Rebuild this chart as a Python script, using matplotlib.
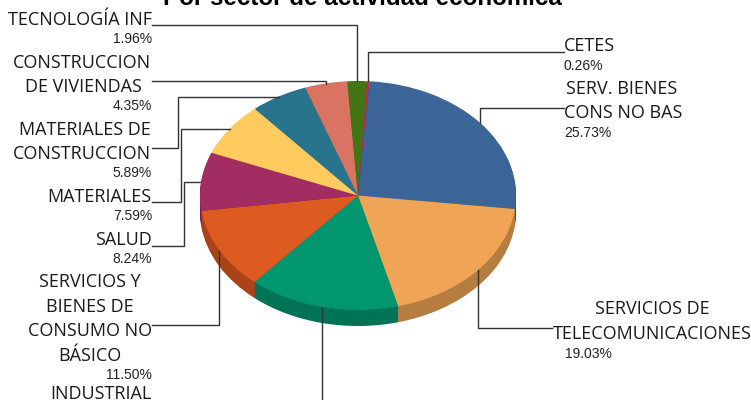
import matplotlib
matplotlib.use('Agg')
import matplotlib.pyplot as plt
import matplotlib.colors as mcolors

# datos de la grafica
sectores = ['CETES', 'SERV. BIENES CONS NO BAS', 'SERVICIOS DE TELECOMUNICACIONES', 'INDUSTRIAL',
            'SERVICIOS Y BIENES DE CONSUMO NO BASICO', 'SALUD', 'MATERIALES',
            'MATERIALES DE CONSTRUCCION', 'CONSTRUCCION DE VIVIENDAS', 'TECNOLOGIA INF']
valores = [0.26, 25.73, 19.03, 15.45, 11.50, 8.24, 7.59, 5.89, 4.35, 1.96]
colores = ['#C5284F', '#3A6596', '#F0A556', '#009670', '#DD5A20',
           '#A22D62', '#FFCB5F', '#28748C', '#D97362', '#437515']
colores_lado = [tuple(c * 0.76 for c in mcolors.to_rgb(col)) for col in colores]

NOMBRE = 'Open Sans'
PCT = 'Liberation Sans'

fig = plt.figure(figsize=(7.51, 4.0), dpi=100)

# pastel: x 200..516, y 81..310 en pixeles
ax = fig.add_axes([200 / 751, (400 - 310) / 400, 316 / 751, 229 / 400])
wp = {'clip_on': False, 'linewidth': 0}
# lado del pastel
for i in range(16, 0, -1):
    ax.pie(valores, colors=colores_lado, startangle=86.8, counterclock=False,
           center=(0, -i / 114.5), wedgeprops=wp)
ax.pie(valores, colors=colores, startangle=86.8, counterclock=False, wedgeprops=wp)
ax.set_aspect('auto')
ax.set_xlim(-1, 1)
ax.set_ylim(-1, 1)
ax.axis('off')

# capa en pixeles para textos y lineas guia
over = fig.add_axes([0, 0, 1, 1], facecolor='none')
over.set_xlim(0, 751)
over.set_ylim(400, 0)
over.axis('off')


def guia(xs, ys):
    over.plot(xs, ys, color='#333333', lw=1, solid_joinstyle='miter', clip_on=False)


guia([152, 357, 357], [25, 25, 81])
guia([152, 326, 326], [81, 81, 84])
guia([152, 178, 178, 279], [148, 148, 97, 97])
guia([152, 181, 181, 230], [202, 202, 129, 129])
guia([152, 184, 184, 200], [245.5, 245.5, 182, 182])
guia([152, 219, 219], [325, 325, 251])
guia([322, 322], [400, 308])
guia([552, 478, 478], [328, 328, 270])
guia([564, 480, 480], [108, 108, 123])
guia([564, 368, 368], [52, 52, 81])


def nombre(x, y, s, ha='right'):
    over.text(x, y + 1, s, ha=ha, va='center', fontsize=13, family=NOMBRE, color='#1a1a1a')


def pct(x, y, s):
    ha = 'right' if x < 375 else 'left'
    over.text(x, y + 1, s, ha=ha, va='center', fontsize=10, family=PCT, color='#222222')


nombre(152, 19, 'TECNOLOGÍA INF')
pct(152, 38, '1.96%')
nombre(151, 62, 'CONSTRUCCION')
nombre(83, 86, 'DE VIVIENDAS', 'center')
pct(152, 105, '4.35%')
nombre(151, 129, 'MATERIALES DE')
nombre(151, 153, 'CONSTRUCCION')
pct(152, 172, '5.89%')
nombre(151, 196, 'MATERIALES')
pct(152, 215, '7.59%')
nombre(152, 239, 'SALUD')
pct(152, 258, '8.24%')
nombre(90, 281, 'SERVICIOS Y', 'center')
nombre(90, 306, 'BIENES DE', 'center')
nombre(152, 330, 'CONSUMO NO')
nombre(90, 355, 'BÁSICO', 'center')
pct(152, 374, '11.50%')
nombre(152, 393, 'INDUSTRIAL')
nombre(564, 45, 'CETES', 'left')
pct(564, 65, '0.26%')
nombre(566, 88, 'SERV. BIENES', 'left')
nombre(564, 112, 'CONS NO BAS', 'left')
pct(564, 132, '25.73%')
nombre(652, 308, 'SERVICIOS DE', 'center')
nombre(652, 333, 'TELECOMUNICACIONES', 'center')
pct(565, 353, '19.03%')

over.text(362, 5, 'Por sector de actividad económica', ha='center', va='baseline',
          fontsize=17.4, fontweight='bold', family=PCT, color='black')

fig.savefig('out.png', dpi=100)
